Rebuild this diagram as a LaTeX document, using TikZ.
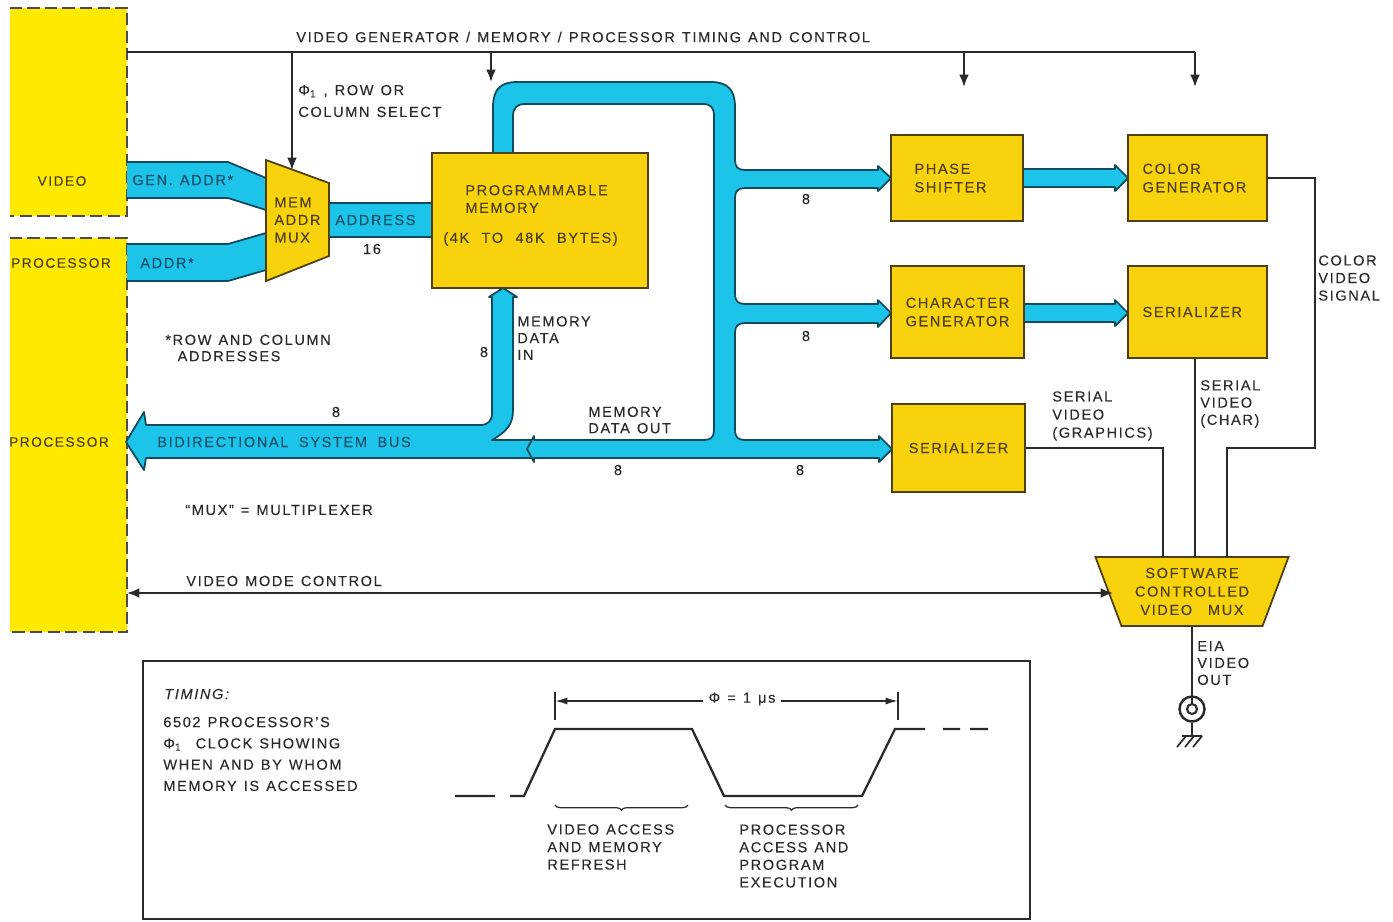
\documentclass[tikz,border=0pt]{standalone}
\usepackage{fontspec}
\setmainfont[LetterSpace=11,WordSpace=1.25,FakeBold=0.12]{Liberation Sans}
\usepackage{xcolor}
\usetikzlibrary{arrows.meta,shapes.geometric,decorations.pathreplacing}

\definecolor{panelyellow}{HTML}{FFE900}
\definecolor{boxyellow}{HTML}{F8D20C}
\definecolor{busblue}{HTML}{1CC4EA}
\definecolor{busedge}{HTML}{0F4A5C}
\definecolor{inkgray}{HTML}{2A2A2A}
\definecolor{inkbrown}{HTML}{4E400E}
\definecolor{inkteal}{HTML}{12506A}

\tikzset{
  lbl/.style={font=\fontsize{8.3}{#1}\selectfont,text=inkgray,align=left,anchor=west,inner sep=0pt},
  lbl/.default=10,
  boxlbl/.style={lbl=#1,text=inkbrown},
  boxlbl/.default=10,
  buslbl/.style={lbl,text=inkteal},
  panel/.style={fill=panelyellow,inner sep=0pt},
  ybox/.style={draw=inkbrown,line width=1pt,fill=boxyellow,inner sep=0pt,align=left,
    font=\fontsize{8.3}{10.5}\selectfont,text=inkbrown},
  bus/.style={draw=busedge,line width=1pt,fill=busblue,line join=round},
  wire/.style={draw=inkgray,line width=1pt},
  tip/.style={wire,-{Latex[length=7pt,width=5.5pt]}},
  dashedge/.style={draw=black!70,line width=1.1pt,dash pattern=on 7pt off 3pt},
}

\begin{document}
\begin{tikzpicture}[x=0.02cm,y=-0.02cm]
\useasboundingbox (0,0) rectangle (1393,921);

% Processor and video panels
\node[panel,minimum width=2.34cm,minimum height=4.16cm] (videopanel) at (68.5,112) {};
\node[panel,minimum width=2.34cm,minimum height=7.88cm] (procpanel) at (68.5,435) {};
\draw[dashedge] (videopanel.north west) -- (videopanel.north east) -- (videopanel.south east) -- (videopanel.south west);
\draw[dashedge] (procpanel.north west) -- (procpanel.north east) -- (procpanel.south east) -- (procpanel.south west);
\node[boxlbl,anchor=center,font=\fontsize{7.8}{10}\selectfont] (videotxt) at (62,181) {VIDEO};
\node[boxlbl,anchor=center,font=\fontsize{7.8}{10}\selectfont] (proctxta) at (61,263) {PROCESSOR};
\node[boxlbl,anchor=center,font=\fontsize{7.8}{10}\selectfont] (proctxtb) at (59,442) {PROCESSOR};

% Address buses into the mux
\draw[bus] (127,162) -- (228,162) -- (266,178) -- (266,210) -- (228,198) -- (127,198);
\draw[bus] (127,244) -- (228,244) -- (266,233) -- (266,270) -- (228,281) -- (127,281);
\draw[bus] (329,203) -- (432,203) -- (432,237) -- (329,237);
\node[buslbl] (genaddr) at (132,180) {GEN. ADDR*};
\node[buslbl] (procaddr) at (140,263) {ADDR*};
\node[buslbl] (addrlbl) at (335,220) {ADDRESS};
\node[lbl,anchor=center] (addrwidth) at (372,249) {16};

% Memory address mux
\draw[ybox] (266,160) -- (329,183) -- (329,256) -- (266,281) -- cycle;
\node[boxlbl=10] (addrmux) at (274,220) {MEM\\ADDR\\MUX};

% Bidirectional system bus
\draw[bus] (534,440) -- (492,440) .. controls (506,432) and (513,425) .. (513,410) -- (513,297)
  -- (517,297) -- (503,288) -- (489,297) -- (492,297) -- (492,413) .. controls (492,421) and (488,425) .. (480,425)
  -- (146,425) -- (144,412) -- (126,442) -- (144,470) -- (146,458) -- (534,458);
\fill[busblue] (494,441) -- (533,441) -- (533,457) -- (494,457) -- cycle;
\node[buslbl] (syslbl) at (157,442) {BIDIRECTIONAL\hspace{2pt} SYSTEM\hspace{2pt} BUS};

% Bus out of the memory, splitting to the generators
\draw[bus] (493,155) -- (493,107) .. controls (493,90) and (500,82) .. (517,82) -- (711,82)
  .. controls (728,82) and (735,90) .. (735,107) -- (735,160) .. controls (735,167) and (738,170) .. (745,170)
  -- (878,170) -- (878,166) -- (891,178) -- (878,191) -- (878,188) -- (745,188)
  .. controls (738,188) and (735,191) .. (735,198) -- (735,294) .. controls (735,301) and (738,304) .. (745,304)
  -- (878,304) -- (878,300) -- (891,313) -- (878,327) -- (878,323) -- (745,323)
  .. controls (738,323) and (735,326) .. (735,333) -- (735,430) .. controls (735,437) and (738,440) .. (745,440)
  -- (879,440) -- (879,436) -- (892,449) -- (879,462) -- (879,458) -- (534,458) -- (534,462) -- (527,449) -- (534,436) -- (534,440)
  -- (704,440) .. controls (711,440) and (714,437) .. (714,430) -- (714,116) .. controls (714,108) and (711,104) .. (703,104)
  -- (525,104) .. controls (517,104) and (513,108) .. (513,116) -- (513,155);

% Memory and generator boxes
\node[ybox,minimum width=4.32cm,minimum height=2.7cm] (memory) at (540,220.5) {};
\node[boxlbl] (memtxt) at (465,199) {PROGRAMMABLE\\MEMORY};
\node[boxlbl] (memsize) at (443,239) {(4K\hspace{3pt} TO\hspace{3pt} 48K\hspace{3pt} BYTES)};
\draw[bus] (1023,169) -- (1115,169) -- (1115,165) -- (1128,178) -- (1115,191) -- (1115,187) -- (1023,187);
\draw[bus] (1024,304) -- (1115,304) -- (1115,300) -- (1128,313) -- (1115,326) -- (1115,322) -- (1024,322);
\node[ybox,minimum width=2.64cm,minimum height=1.72cm,text width=1.7cm] (phase) at (957,178) {PHASE\\SHIFTER};
\node[ybox,minimum width=2.78cm,minimum height=1.72cm,text width=2.2cm] (color) at (1197.5,178) {COLOR\\GENERATOR};
\node[ybox,minimum width=2.66cm,minimum height=1.84cm,align=center] (chargen) at (957.5,312) {CHARACTER\\GENERATOR};
\node[ybox,minimum width=2.78cm,minimum height=1.84cm,text width=2.2cm] (charser) at (1197.5,312) {SERIALIZER};
\node[ybox,minimum width=2.66cm,minimum height=1.76cm,align=center] (gfxser) at (958.5,448) {SERIALIZER};

% Software controlled mux and video out
\node[ybox,trapezium,shape border rotate=180,trapezium stretches=true,trapezium angle=66,
  minimum width=3.88cm,minimum height=1.38cm,align=center] (videomux) at (1192,591.5) {SOFTWARE\\CONTROLLED\\VIDEO\hspace{5pt} MUX};
\node[draw=inkgray,line width=1.4pt,circle,minimum size=0.5cm,inner sep=0pt] (jack) at (1192,709) {};
\node[draw=inkgray,line width=1.2pt,circle,minimum size=0.2cm,inner sep=0pt] (jackcore) at (1192,709) {};
\coordinate (gndtop) at (1192,736);
\draw[wire] (videomux.south) -- (jackcore.north);
\draw[wire] (jack.south) -- (gndtop);
\draw[wire] (1182,736) -- (1202,736) (1186,736) -- (1177,747) (1194,736) -- (1185,747) (1202,736) -- (1193,747);

% Timing and control lines
\coordinate (topleft) at (127,52);
\coordinate (topright) at (1195,52);
\coordinate (memtap) at (491,52);
\coordinate (memend) at (491,82);
\coordinate (phasetap) at (964,52);
\coordinate (phaseend) at (964,87);
\coordinate (colorend) at (1195,87);
\coordinate (muxtap) at (292,52);
\coordinate (muxend) at (292,170);
\draw[wire] (topleft) -- (topright);
\draw[tip] (memtap) -- (memend);
\draw[tip] (phasetap) -- (phaseend);
\draw[tip] (topright) -- (colorend);
\draw[tip] (muxtap) -- (muxend);

% Video lines to the video mux
\coordinate (colorcorner) at (1315,178);
\coordinate (colorbend) at (1315,448);
\coordinate (colorin) at (1227,558);
\coordinate (charin) at (1195,558);
\coordinate (gfxin) at (1163,558);
\coordinate (modeleft) at (127,593);
\coordinate (moderight) at (1113,593);
\draw[wire] (color.east) -- (colorcorner) -- (colorbend) -| (colorin);
\draw[wire] (charser.south -| charin) -- (charin);
\draw[wire] (gfxser.east) -| (gfxin);
\draw[wire,{Latex[length=7pt,width=5.5pt]}-{Latex[length=7pt,width=5.5pt]}] (modeleft) -- (moderight);

% Labels
\node[lbl] (toplbl) at (296,37) {VIDEO GENERATOR / MEMORY / PROCESSOR TIMING AND CONTROL};
\node[lbl=12.4] (selectlbl) at (298,101) {Φ\textsubscript{1} , ROW OR\\COLUMN SELECT};
\node[lbl=9.3] (rowlbl) at (165,348) {*ROW AND COLUMN\\\hspace{7pt}ADDRESSES};
\node[lbl=9.5] (datain) at (517,338) {MEMORY\\DATA\\IN};
\node[lbl=9.3] (dataout) at (588,420) {MEMORY\\DATA OUT};
\node[lbl] (muxnote) at (185,510) {“MUX” = MULTIPLEXER};
\node[lbl] (modelbl) at (186,581) {VIDEO MODE CONTROL};
\node[lbl,anchor=center] (w1) at (806,199) {8};
\node[lbl,anchor=center] (w2) at (806,336) {8};
\node[lbl,anchor=center] (w3) at (484,352) {8};
\node[lbl,anchor=center] (w4) at (336,412) {8};
\node[lbl,anchor=center] (w5) at (618,470) {8};
\node[lbl,anchor=center] (w6) at (800,470) {8};
\node[lbl=10.3] (gfxlbl) at (1052,416) {SERIAL\\VIDEO\\(GRAPHICS)};
\node[lbl=9.8] (charlbl) at (1200,404) {SERIAL\\VIDEO\\(CHAR)};
\node[lbl=10] (colorlbl) at (1318,278) {COLOR\\VIDEO\\SIGNAL};
\node[lbl=9.6] (eialbl) at (1197,663) {EIA\\VIDEO\\OUT};

% Timing box
\node[draw=inkgray,line width=1.5pt,minimum width=17.74cm,minimum height=5.16cm,inner sep=0pt] (timingbox) at (586.5,790) {};
\node[lbl] (timingttl) at (164,694) {\itshape TIMING:};
\node[lbl=12.1] (timingtxt) at (163,754) {6502 PROCESSOR'S\\Φ\textsubscript{1}\hspace{4pt} CLOCK SHOWING\\WHEN AND BY WHOM\\MEMORY IS ACCESSED};
\draw[wire,line width=1.3pt] (455,796) -- (495,796) (510,796) -- (524,796) -- (555,729) -- (692,729) -- (724,796) -- (862,796) -- (895,729) -- (925,729) (943,729) -- (960,729) (970,729) -- (988,729);
\coordinate (dimleft) at (555,701);
\coordinate (dimright) at (898,701);
\draw[wire] (555,692) -- (555,720) (898,692) -- (898,720);
\draw[wire,{Latex[length=7pt,width=4pt]}-{Latex[length=7pt,width=4pt]}] (dimleft) -- (dimright);
\node[lbl,anchor=center,fill=white,inner xsep=3pt] (period) at (742,699) {Φ = 1 μs};
\coordinate (bracea) at (555,805);
\coordinate (braceb) at (688,805);
\coordinate (bracec) at (725,805);
\coordinate (braced) at (858,805);
\draw[wire,line width=0.7pt,decorate,decoration={brace,mirror,amplitude=3pt}] (bracea) -- (braceb);
\draw[wire,line width=0.7pt,decorate,decoration={brace,mirror,amplitude=3pt}] (bracec) -- (braced);
\node[lbl=10] (accessa) at (547,847) {VIDEO ACCESS\\AND MEMORY\\REFRESH};
\node[lbl=10] (accessb) at (739,856) {PROCESSOR\\ACCESS AND\\PROGRAM\\EXECUTION};
\end{tikzpicture}
\end{document}
